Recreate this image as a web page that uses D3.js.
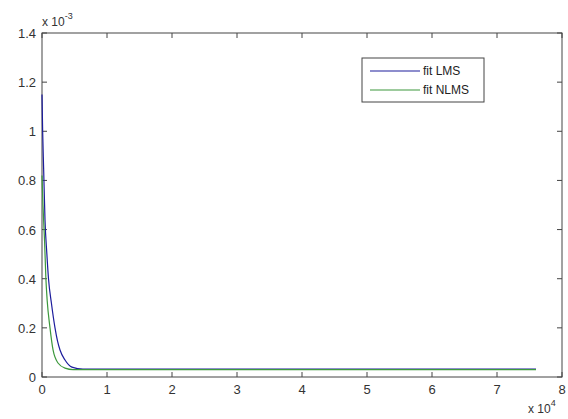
<!DOCTYPE html>
<html>
<head>
<meta charset="utf-8">
<script src="https://cdn.jsdelivr.net/npm/d3@7"></script>
<style>
  body { margin: 0; background: #fff; }
  text { font-family: "Liberation Sans", Arial, sans-serif; }
</style>
</head>
<body>
<div id="chart"></div>
<script>
// values (x in samples, y in units of 1e-3)
var seriesNames = ["fit LMS", "fit NLMS"];
var seriesColors = ["#1c1c9c", "#3c983c"];
var lmsX = [0, 100, 250, 460, 750, 1000, 1450, 2000, 2400, 2770, 3540, 4600, 6300, 76000];
var lmsY = [1.15, 1.0, 0.85, 0.64, 0.5, 0.4, 0.3, 0.2, 0.145, 0.11, 0.069, 0.04, 0.032, 0.032];
var nlmsX = [0, 150, 400, 600, 800, 1230, 1700, 2460, 3540, 4800, 76000];
var nlmsY = [0.82, 0.7, 0.55, 0.4, 0.31, 0.2, 0.11, 0.057, 0.036, 0.03, 0.03];
var xTicks = [0, 1, 2, 3, 4, 5, 6, 7, 8];
var yTicks = [0, 0.2, 0.4, 0.6, 0.8, 1, 1.2, 1.4];

var W = 568, H = 419;
var margin = {top: 33, right: 6, bottom: 42, left: 42};
var width = W - margin.left - margin.right,
    height = H - margin.top - margin.bottom;

var svg = d3.select("#chart").append("svg")
  .attr("width", W).attr("height", H);
var g = svg.append("g")
  .attr("transform", "translate(" + margin.left + "," + margin.top + ")");

var x = d3.scaleLinear().domain([0, 80000]).range([0, width]);
var y = d3.scaleLinear().domain([0, 1.4]).range([height, 0]);

// frame
g.append("rect")
  .attr("width", width).attr("height", height)
  .attr("fill", "none").attr("stroke", "#444").attr("stroke-width", 1);

// ticks (inward, mirrored on top/right)
xTicks.forEach(function(t) {
  var px = x(t * 1e4);
  g.append("line").attr("x1", px).attr("x2", px).attr("y1", height).attr("y2", height - 5).attr("stroke", "#444");
  g.append("line").attr("x1", px).attr("x2", px).attr("y1", 0).attr("y2", 5).attr("stroke", "#444");
  g.append("text").attr("x", px).attr("y", height + 17)
    .attr("text-anchor", "middle").attr("font-size", "13px").attr("fill", "#333")
    .text(t);
});
yTicks.forEach(function(t) {
  var py = y(t);
  g.append("line").attr("x1", 0).attr("x2", 5).attr("y1", py).attr("y2", py).attr("stroke", "#444");
  g.append("line").attr("x1", width).attr("x2", width - 5).attr("y1", py).attr("y2", py).attr("stroke", "#444");
  g.append("text").attr("x", -6).attr("y", py + 5)
    .attr("text-anchor", "end").attr("font-size", "13px").attr("fill", "#333")
    .text(t);
});

// exponent labels
var e1 = svg.append("text").attr("x", 42).attr("y", 26).attr("font-size", "12px").attr("fill", "#333");
e1.append("tspan").text("x 10");
e1.append("tspan").attr("dy", -7).attr("font-size", "9px").text("-3");
var e2 = svg.append("text").attr("x", 528).attr("y", 413).attr("font-size", "12px").attr("fill", "#333");
e2.append("tspan").text("x 10");
e2.append("tspan").attr("dy", -7).attr("font-size", "9px").text("4");

// lines
var line = d3.line()
  .x(function(d) { return x(d[0]); })
  .y(function(d) { return y(d[1]); })
  .curve(d3.curveMonotoneX);

var data = [d3.zip(lmsX, lmsY), d3.zip(nlmsX, nlmsY)];
data.forEach(function(pts, i) {
  g.append("path").datum(pts)
    .attr("d", line)
    .attr("fill", "none")
    .attr("stroke", seriesColors[i])
    .attr("stroke-width", 1.2);
});

// legend
var lg = svg.append("g").attr("transform", "translate(362,58)");
lg.append("rect").attr("width", 122).attr("height", 44)
  .attr("fill", "#fff").attr("stroke", "#444");
seriesNames.forEach(function(name, i) {
  var ly = 13 + i * 19;
  lg.append("line").attr("x1", 8).attr("x2", 58).attr("y1", ly).attr("y2", ly)
    .attr("stroke", seriesColors[i]).attr("stroke-width", 1.2);
  lg.append("text").attr("x", 61).attr("y", ly + 4)
    .attr("font-size", "12px").attr("fill", "#222").text(name);
});
</script>
</body>
</html>
